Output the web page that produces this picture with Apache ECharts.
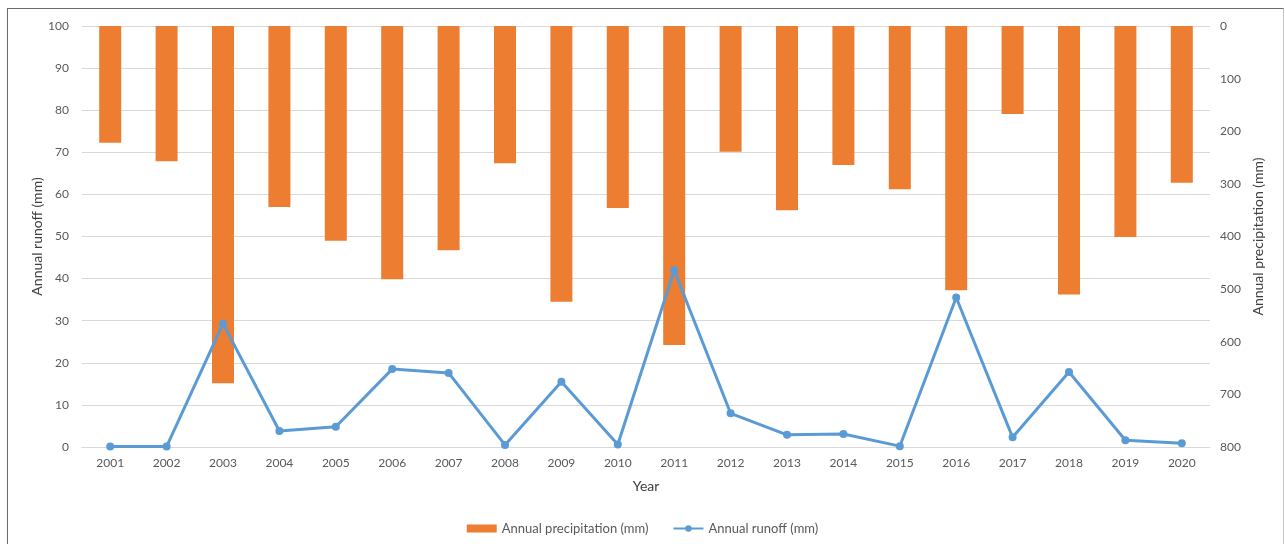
<!DOCTYPE html>
<html>
<head>
<meta charset="utf-8">
<script src="https://cdn.jsdelivr.net/npm/echarts@6/dist/echarts.min.js"></script>
<style>
  html, body { margin: 0; padding: 0; background: #fff; }
  #frame {
    position: absolute; left: 7px; top: 8px; width: 1275px; height: 560px;
    border-top: 1px solid #6b6b6b; border-left: 1px solid #6b6b6b; border-right: 1px solid #c6c6c6;
  }
  #chart { position: absolute; left: 0; top: 0; width: 1285px; height: 544px; }
</style>
</head>
<body>
<div id="frame"></div>
<div id="chart"></div>
<script>
// Years on the horizontal axis
const years = ['2001','2002','2003','2004','2005','2006','2007','2008','2009','2010',
               '2011','2012','2013','2014','2015','2016','2017','2018','2019','2020'];

// Annual precipitation (mm), drawn as bars hanging from the inverted right axis
const precipitation = [222, 257, 679, 344, 408, 481, 426, 261, 524, 346,
                       606, 239, 350, 264, 310, 502, 167, 510, 401, 298];

// Annual runoff (mm), drawn as a line on the left axis
const runoff = [0.1, 0.1, 29.3, 3.8, 4.8, 18.5, 17.6, 0.5, 15.5, 0.6,
                42.0, 8.0, 2.9, 3.1, 0.2, 35.5, 2.3, 17.8, 1.6, 0.9];

const FONT = 'Lato, "Open Sans", sans-serif';
const LABEL = '#595959';
const TITLE = '#404040';
const GRID = '#d9d9d9';

const chart = echarts.init(document.getElementById('chart'), null, { renderer: 'canvas' });

chart.setOption({
  backgroundColor: 'transparent',
  animation: false,
  textStyle: { fontFamily: FONT },
  grid: { left: 82, right: 75, top: 26, bottom: 97 },
  legend: {
    bottom: 4,
    left: 'center',
    itemGap: 24,
    itemWidth: 30,
    itemHeight: 8,
    textStyle: { fontFamily: FONT, fontSize: 13, color: LABEL },
    data: [
      { name: 'Annual precipitation (mm)', icon: 'rect' },
      { name: 'Annual runoff (mm)' }
    ]
  },
  xAxis: {
    type: 'category',
    data: years,
    name: 'Year',
    nameLocation: 'middle',
    nameGap: 32,
    nameTextStyle: { fontFamily: FONT, fontSize: 14, color: TITLE },
    axisLine: { lineStyle: { color: GRID } },
    axisTick: { show: false },
    axisLabel: { color: LABEL, fontSize: 12, fontFamily: FONT, margin: 10 }
  },
  yAxis: [
    {
      type: 'value',
      min: 0, max: 100, interval: 10,
      name: 'Annual runoff (mm)',
      nameLocation: 'middle',
      nameGap: 38,
      nameMoveOverlap: false,
      nameRotate: 90,
      nameTextStyle: { fontFamily: FONT, fontSize: 14, color: TITLE },
      axisLine: { show: false },
      axisTick: { show: false },
      axisLabel: { color: LABEL, fontSize: 12, fontFamily: FONT, margin: 13 },
      splitLine: { lineStyle: { color: GRID, width: 1 } }
    },
    {
      type: 'value',
      min: 0, max: 800, interval: 100,
      inverse: true,
      name: 'Annual precipitation (mm)',
      nameLocation: 'middle',
      nameGap: 40,
      nameRotate: 90,
      nameTextStyle: { fontFamily: FONT, fontSize: 14, color: TITLE },
      axisLine: { show: false },
      axisTick: { show: false },
      axisLabel: { color: LABEL, fontSize: 12, fontFamily: FONT, margin: 10 },
      splitLine: { show: false }
    }
  ],
  series: [
    {
      name: 'Annual precipitation (mm)',
      type: 'bar',
      yAxisIndex: 1,
      data: precipitation,
      barWidth: 22,
      itemStyle: { color: '#ed7d31' },
      z: 2
    },
    {
      name: 'Annual runoff (mm)',
      type: 'line',
      yAxisIndex: 0,
      data: runoff,
      symbol: 'circle',
      symbolSize: 8,
      lineStyle: { color: '#5b9bd5', width: 3 },
      itemStyle: { color: '#5b9bd5' },
      z: 3
    }
  ]
});
</script>
</body>
</html>
